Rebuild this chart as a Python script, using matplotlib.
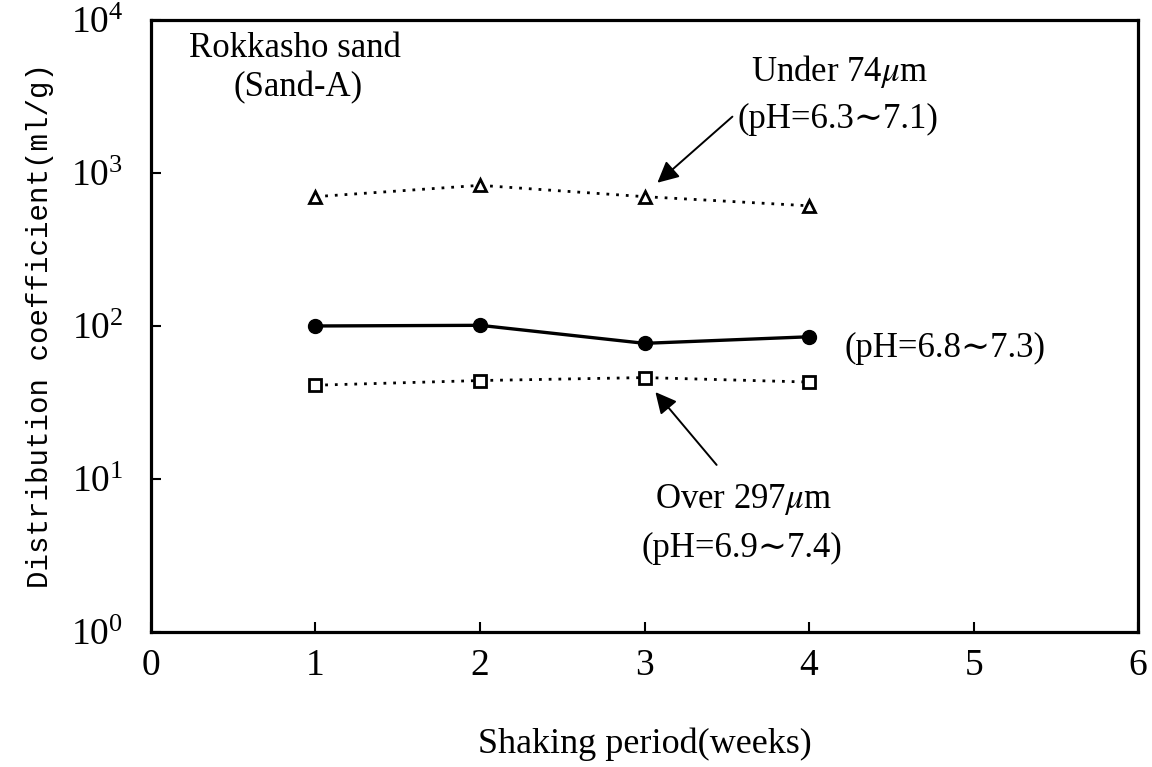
import matplotlib
matplotlib.use("Agg")
import matplotlib.pyplot as plt
import numpy as np

plt.rcParams['font.family'] = ['Liberation Serif', 'DejaVu Serif']
plt.rcParams['mathtext.fontset'] = 'stix'

# data
weeks = [1, 2, 3, 4]
under74 = [700, 830, 700, 610]      # open triangles, dotted
whole = [100, 101, 77, 85]          # filled circles, solid
over297 = [41, 44, 46, 43]          # open squares, dotted

fig = plt.figure(figsize=(11.52, 7.67), dpi=100)
ax = fig.add_axes([0.131, 0.176, 0.857, 0.798])

ax.plot(weeks, under74, linestyle=(0, (1, 2.5)), lw=2, color='k',
        marker='^', ms=9, mfc='white', mec='k', mew=2)
ax.plot(weeks, whole, '-', lw=2.4, color='k', marker='o', ms=10)
ax.plot(weeks, over297, linestyle=(0, (1, 2.5)), lw=2, color='k',
        marker='s', ms=8, mfc='white', mec='k', mew=2)

ax.set_yscale('log')
ax.set_xlim(0, 6)
ax.set_ylim(1, 1e4)
ax.set_xticks(range(7))
ax.set_yticks([1, 10, 100, 1000, 10000])
ax.yaxis.set_minor_locator(matplotlib.ticker.NullLocator())
ax.tick_params(direction='in', length=7, width=1.5, labelsize=27)
ax.tick_params(axis='x', pad=12)
ax.tick_params(axis='y', pad=20)
for s in ax.spines.values():
    s.set_linewidth(2.3)

ax.set_xlabel('Shaking period(weeks)', fontsize=26, labelpad=32)
ax.set_ylabel('Distribution coefficient(ml/g)', fontsize=21,
              family='Liberation Mono', labelpad=12)

fs = 25
ax.text(0.146, 0.954, 'Rokkasho sand', transform=ax.transAxes,
        fontsize=fs, ha='center', va='center')
ax.text(0.149, 0.889, '(Sand-A)', transform=ax.transAxes,
        fontsize=fs, ha='center', va='center')
ax.text(0.697, 0.915, 'Under 74$\\mu$m', transform=ax.transAxes,
        fontsize=fs, ha='center', va='center')
ax.text(0.696, 0.837, '(pH=6.3∼7.1)', transform=ax.transAxes,
        fontsize=fs, ha='center', va='center')
ax.text(0.703, 0.464, '(pH=6.8∼7.3)', transform=ax.transAxes,
        fontsize=fs, ha='left', va='center')
ax.text(0.600, 0.216, 'Over 297$\\mu$m', transform=ax.transAxes,
        fontsize=fs, ha='center', va='center')
ax.text(0.599, 0.137, '(pH=6.9∼7.4)', transform=ax.transAxes,
        fontsize=fs, ha='center', va='center')

arrow = dict(arrowstyle='-|>', mutation_scale=32, lw=1.4, color='k',
             shrinkA=0, shrinkB=0)
ax.annotate('', xy=(0.513, 0.734), xytext=(0.589, 0.842),
            xycoords='axes fraction', textcoords='axes fraction',
            arrowprops=arrow)
ax.annotate('', xy=(0.511, 0.392), xytext=(0.573, 0.273),
            xycoords='axes fraction', textcoords='axes fraction',
            arrowprops=arrow)

fig.savefig('out.png', dpi=100)
